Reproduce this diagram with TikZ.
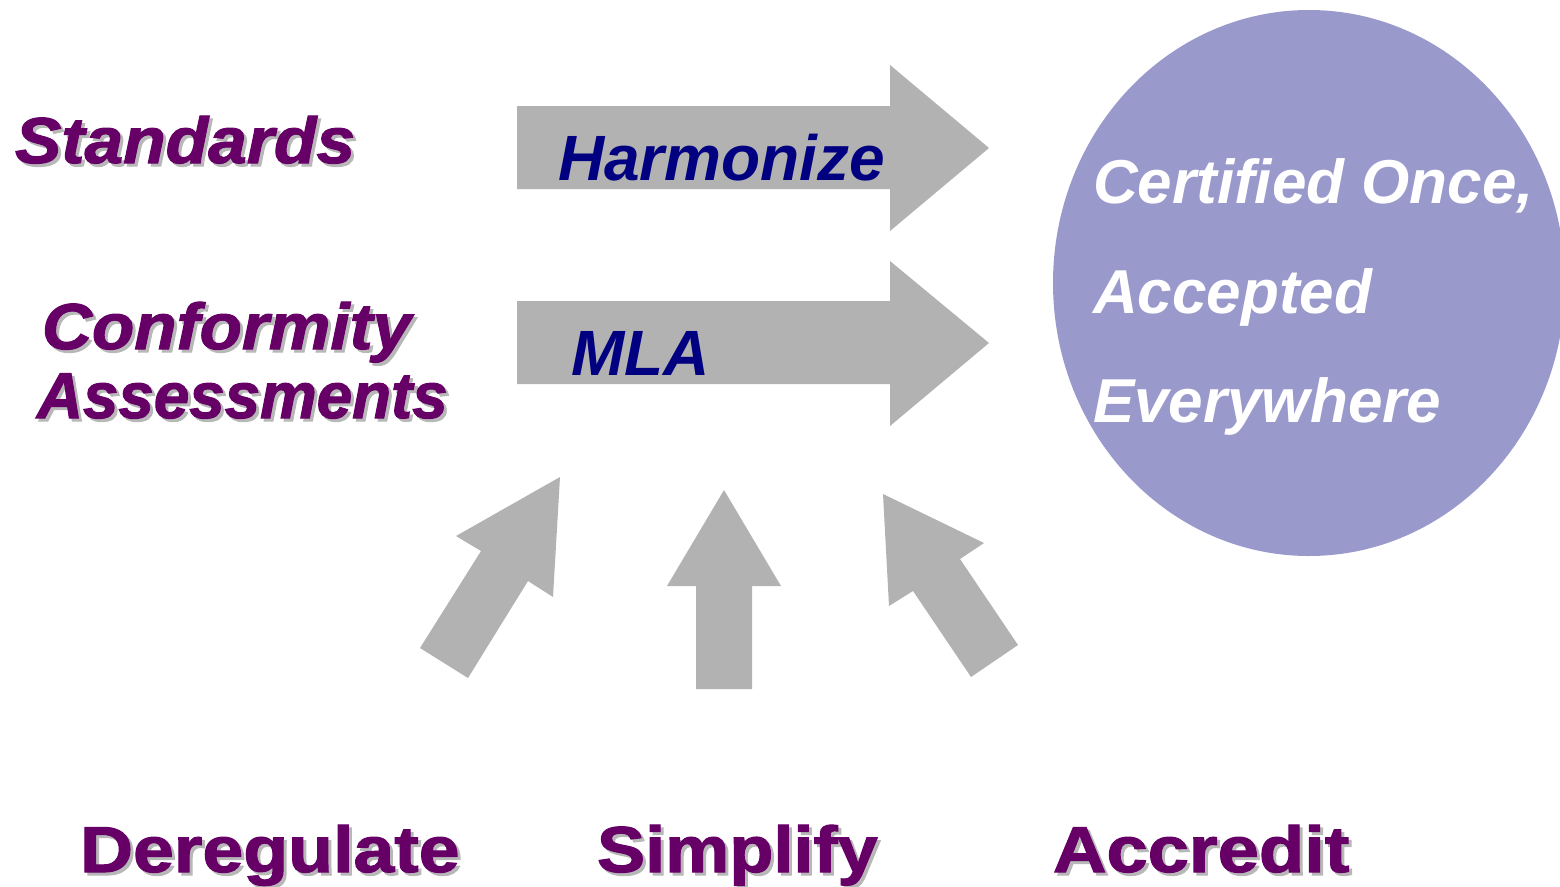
\documentclass[tikz,border=0pt]{standalone}
\usepackage{fontspec}
\setmainfont{Liberation Sans}
\newfontfamily\heavyfont{Liberation Sans}[FakeBold=1.6]
\definecolor{plum}{HTML}{660066}
\definecolor{navy}{HTML}{000080}
\definecolor{arrowgray}{HTML}{B2B2B2}
\definecolor{shadowgray}{HTML}{B8B8B8}
\definecolor{lavender}{HTML}{9999CC}
\tikzset{
  bigarrow/.style={fill=arrowgray, draw=none},
  lbl/.style={anchor=base west, inner sep=0pt, outer sep=0pt},
  heavyit/.style={lbl, font=\heavyfont\fontsize{65}{65}\selectfont\bfseries\itshape},
  heavyup/.style={lbl, font=\heavyfont\fontsize{65}{65}\selectfont\bfseries},
  arrowtxt/.style={lbl, text=navy, font=\fontsize{64}{64}\selectfont\bfseries\itshape},
  circtxt/.style={lbl, text=white, font=\fontsize{62}{62}\selectfont\bfseries\itshape},
}
\newcommand{\shadowlabel}[5]{%
  \node[#1, text=shadowgray] at ($(#2)+(3,3)$) {\scalebox{#5}[1]{#4}};
  \node[#1, text=plum] (#3) at (#2) {\scalebox{#5}[1]{#4}};
}
\usetikzlibrary{calc}
\begin{document}
\begin{tikzpicture}[x=1pt, y=-1pt]
\useasboundingbox (0,0) rectangle (1560,886);
\begin{scope}
\clip (0,0) rectangle (1560,886);
% circle
\fill[lavender] (1309,283) ellipse [x radius=256, y radius=273];
\end{scope}
% horizontal arrows
\fill[bigarrow] (517,106) -- (890,106) -- (890,65) -- (989,148) -- (890,231) -- (890,189) -- (517,189) -- cycle;
\fill[bigarrow] (517,301) -- (890,301) -- (890,261) -- (989,343) -- (890,426) -- (890,384) -- (517,384) -- cycle;
% upward arrows
\fill[bigarrow] (420,648) -- (468,678) -- (528,581) -- (553,597) -- (560,477) -- (456,536) -- (481,551) -- cycle;
\fill[bigarrow] (696,689) -- (752,689) -- (752,586) -- (781,586) -- (724,490) -- (667,586) -- (696,586) -- cycle;
\fill[bigarrow] (1018,645) -- (971,677) -- (913,591) -- (889,606) -- (883,494) -- (984,543) -- (960,559) -- cycle;
% labels
\shadowlabel{heavyit}{15,163}{standards}{Standards}{1.07}
\shadowlabel{heavyit}{42,349}{conformity}{Conformity}{1.065}
\shadowlabel{heavyit}{37,418}{assessments}{Assessments}{0.98}
\shadowlabel{heavyup}{80,872}{deregulate}{Deregulate}{1.13}
\shadowlabel{heavyup}{597,872}{simplify}{Simplify}{1.11}
\shadowlabel{heavyup}{1053,872}{accredit}{Accredit}{1.14}
\node[arrowtxt] (harmonize) at (558,180) {Harmonize};
\node[arrowtxt] (mla) at (571,375) {MLA};
\node[circtxt] (certified) at (1093,203) {Certified Once,};
\node[circtxt] (accepted) at (1093,313) {Accepted};
\node[circtxt] (everywhere) at (1093,422) {Everywhere};
\end{tikzpicture}
\end{document}
